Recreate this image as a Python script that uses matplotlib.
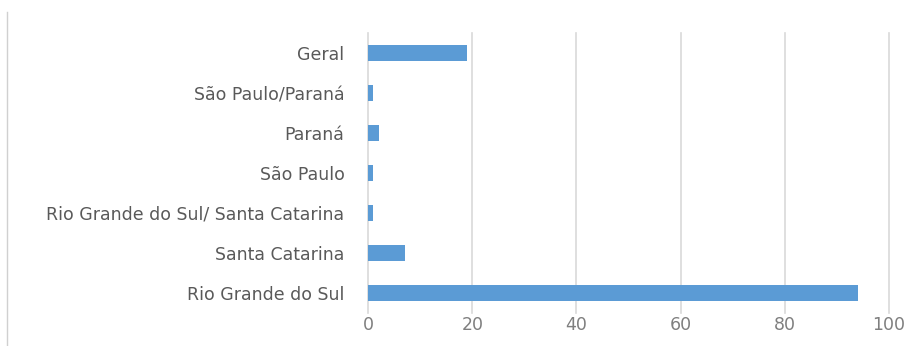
import matplotlib
matplotlib.use("Agg")
import matplotlib.pyplot as plt
from matplotlib.lines import Line2D

categories = ["Rio Grande do Sul", "Santa Catarina", "Rio Grande do Sul/ Santa Catarina",
              "São Paulo", "Paraná", "São Paulo/Paraná", "Geral"]
values = [94, 7, 1, 1, 2, 1, 19]
xticks = [0, 20, 40, 60, 80, 100]

fig = plt.figure(figsize=(9.09, 3.46), dpi=100)
ax = fig.add_axes([0.405, 0.0954, 0.573, 0.8092])
ax.barh(range(len(categories)), values, height=0.4, color="#5b9bd5", zorder=3)
ax.set_xlim(0, 100)
ax.set_ylim(-0.5, len(categories) - 0.5)
ax.set_xticks(xticks)
ax.set_yticks(range(len(categories)))
ax.set_yticklabels(categories)
ax.grid(axis="x", color="#d9d9d9", linewidth=1.2, zorder=0)
for gl in ax.xaxis.get_gridlines():
    gl.set_clip_on(False)
for s in ax.spines.values():
    s.set_visible(False)
ax.tick_params(axis="y", length=0, labelsize=12.5, colors="#595959", pad=17)
ax.tick_params(axis="x", length=0, labelsize=12.5, colors="#7f7f7f", pad=2)

fig.add_artist(Line2D([0.0075, 0.0075], [0.0, 0.965], transform=fig.transFigure,
                      color="#d0d0d0", linewidth=1))

fig.savefig("out.png", dpi=100)
